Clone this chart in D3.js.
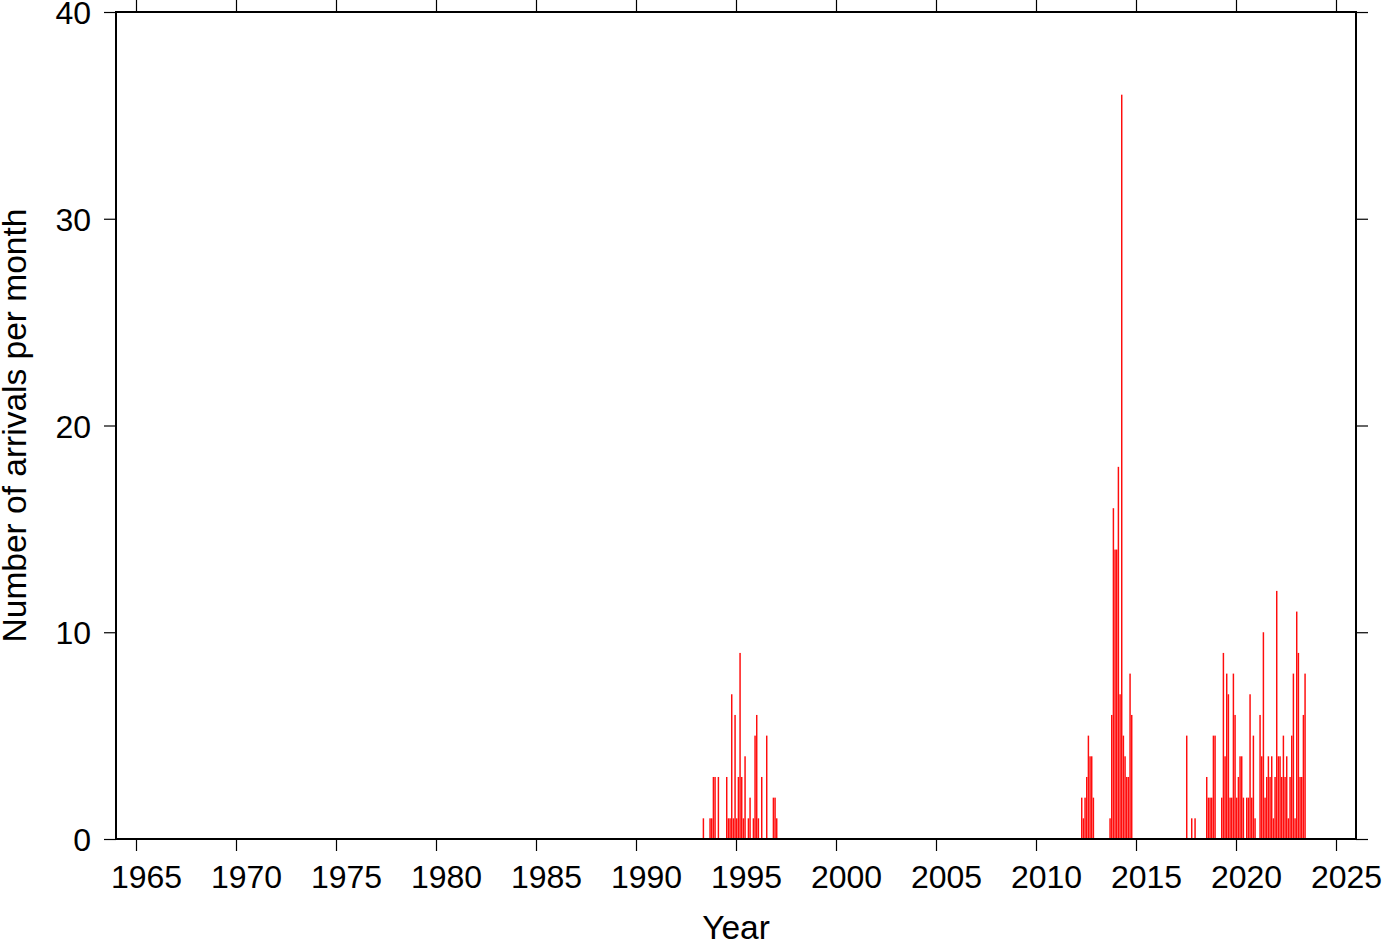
<!DOCTYPE html>
<html>
<head>
<meta charset="utf-8">
<script src="https://cdn.jsdelivr.net/npm/d3@7"></script>
<style>
  html, body { margin: 0; padding: 0; background: #fff; }
  svg { display: block; }
  text { font-family: "Liberation Sans", Arial, Helvetica, sans-serif; fill: #000; }
</style>
</head>
<body>
<svg id="chart" width="1382" height="942"></svg>
<script>
// ---- data (month of arrival, number of arrivals) ----
const months = [
  "1993-05","1993-09","1993-10","1993-11","1993-12","1994-02","1994-07","1994-08","1994-09","1994-10",
  "1994-11","1994-12","1995-01","1995-02","1995-03","1995-04","1995-05","1995-06","1995-08","1995-09",
  "1995-11","1995-12","1996-01","1996-02","1996-04","1996-07","1996-11","1996-12","1997-01",
  "2012-04","2012-05","2012-06","2012-07","2012-08","2012-09","2012-10","2012-11",
  "2013-09","2013-10","2013-11","2013-12","2014-01","2014-02","2014-03","2014-04","2014-05","2014-06",
  "2014-07","2014-08","2014-09","2014-10",
  "2017-07","2017-10","2017-12",
  "2018-07","2018-08","2018-09","2018-10","2018-11","2018-12",
  "2019-04","2019-05","2019-06","2019-07","2019-08","2019-09","2019-10","2019-11","2019-12",
  "2020-01","2020-02","2020-03","2020-04","2020-05","2020-07","2020-08","2020-09","2020-10","2020-11","2020-12",
  "2021-03","2021-04","2021-05","2021-06","2021-07","2021-08","2021-09","2021-10","2021-11","2021-12",
  "2022-01","2022-02","2022-03","2022-04","2022-05","2022-06","2022-07","2022-08","2022-09","2022-10","2022-11","2022-12",
  "2023-01","2023-02","2023-03","2023-04","2023-05","2023-06"
];
const counts = [
  1,1,1,3,3,3,3,1,1,7,
  1,6,1,3,9,3,1,4,1,2,
  1,5,6,1,3,5,2,2,1,
  2,1,2,3,5,4,4,2,
  1,6,16,14,14,18,7,36,5,4,
  3,3,8,6,
  5,1,1,
  3,2,2,2,5,5,
  2,9,4,8,7,2,2,8,6,
  2,3,4,4,2,2,2,7,2,5,1,
  6,4,10,2,3,4,3,4,1,3,
  12,4,4,3,5,3,4,1,3,5,8,1,
  11,9,3,3,6,8
];
const xTicks = [1965,1970,1975,1980,1985,1990,1995,2000,2005,2010,2015,2020,2025];
const yTicks = [0,10,20,30,40];
const xDomain = [1964, 2026];
const yDomain = [0, 40];
const xTitle = "Year";
const yTitle = "Number of arrivals per month";

// ---- layout ----
const L = 116, R = 1356, T = 12, B = 839;
const svg = d3.select("#chart");
const x = d3.scaleLinear().domain(xDomain).range([L, R]);
const y = d3.scaleLinear().domain(yDomain).range([B, T]);

const data = months.map((m, i) => {
  const [yr, mo] = m.split("-").map(Number);
  return { t0: yr + (mo - 1) / 12, t1: yr + mo / 12, v: counts[i] };
});

// bars
svg.append("g").selectAll("rect").data(data).join("rect")
  .attr("x", d => x(d.t0))
  .attr("width", d => Math.max(0.5, x(d.t1) - x(d.t0) - 0.2))
  .attr("y", d => y(d.v))
  .attr("height", d => y(0) - y(d.v))
  .attr("fill", "#ff0d0d");

// axes
const fs = 32, fsTitle = 33.5;
function styleAxis(g) {
  g.select(".domain").remove();
  g.selectAll(".tick line").attr("stroke", "#000").attr("stroke-width", 1.2);
  g.selectAll(".tick text").attr("font-size", fs + "px")
    .attr("font-family", "Liberation Sans, Arial, Helvetica, sans-serif").attr("fill", "#000");
}
const gB = svg.append("g").attr("transform", `translate(0,${B})`)
  .call(d3.axisBottom(x).tickValues(xTicks).tickFormat(d3.format("d")).tickSize(12).tickPadding(14));
styleAxis(gB);
gB.selectAll(".tick text").attr("dy", null).attr("y", 49).attr("x", 10);

const gT = svg.append("g").attr("transform", `translate(0,${T})`)
  .call(d3.axisTop(x).tickValues(xTicks).tickFormat("").tickSize(12));
styleAxis(gT);

const gL = svg.append("g").attr("transform", `translate(${L},0)`)
  .call(d3.axisLeft(y).tickValues(yTicks).tickFormat(d3.format("d")).tickSize(12).tickPadding(13));
styleAxis(gL);
gL.selectAll(".tick text").attr("dy", "0.36em");

const gR = svg.append("g").attr("transform", `translate(${R},0)`)
  .call(d3.axisRight(y).tickValues(yTicks).tickFormat("").tickSize(12));
styleAxis(gR);

// frame
svg.append("rect").attr("x", L).attr("y", T).attr("width", R - L).attr("height", B - T)
  .attr("fill", "none").attr("stroke", "#000").attr("stroke-width", 2);

// titles
svg.append("text").attr("x", (L + R) / 2).attr("y", 939).attr("text-anchor", "middle")
  .attr("font-size", fsTitle + "px").text(xTitle);
svg.append("text").attr("transform", `translate(26,${(T + B) / 2}) rotate(-90)`)
  .attr("text-anchor", "middle").attr("font-size", fsTitle + "px").text(yTitle);
</script>
</body>
</html>
